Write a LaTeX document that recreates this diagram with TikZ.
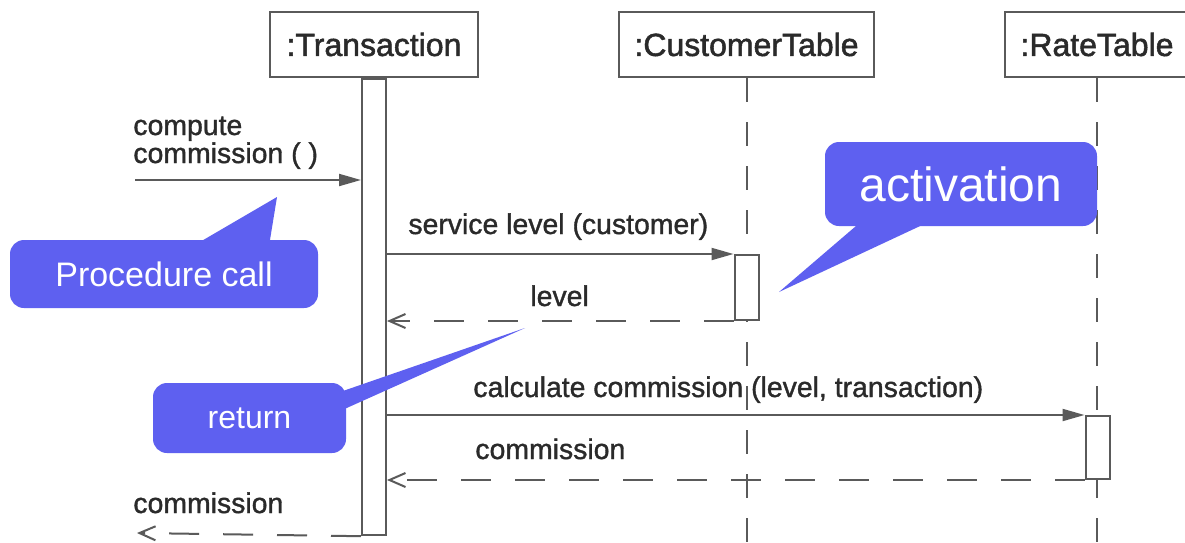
\documentclass[tikz,border=0pt]{standalone}
\usepackage{fontspec}
\setmainfont{Liberation Sans}
\newfontfamily\umlfont{Liberation Sans}[RawFeature={embolden=1.2}]
\newfontfamily\objfont{Liberation Sans}[RawFeature={embolden=1.6}]
\usetikzlibrary{arrows.meta, calc}
\definecolor{LineGray}{HTML}{5A5A5A}
\definecolor{TextGray}{HTML}{2A2A2A}
\definecolor{BalloonBlue}{HTML}{5E60F0}
\tikzset{
  objbox/.style={draw=LineGray, line width=1.2pt, fill=white, text=TextGray,
                 font=\objfont\fontsize{16}{19}\selectfont, minimum height=32.5pt,
                 inner sep=0pt},
  actbar/.style={draw=LineGray, line width=1pt, fill=white, minimum width=12pt,
                 inner sep=0pt, anchor=north},
  lifeline/.style={draw=LineGray, line width=1pt, dash pattern=on 12pt off 10pt},
  callmsg/.style={draw=LineGray, line width=1pt,
                  -{Triangle[length=11pt,width=6pt]}},
  retmsg/.style={draw=LineGray, line width=1pt, dash pattern=on 15pt off 12pt,
                 -{Straight Barb[length=8pt,width=7pt]}},
  msglbl/.style={font=\umlfont\fontsize{14.2}{14}\selectfont, text=TextGray,
                 inner sep=0pt, anchor=base west, align=left},
  balloon/.style={fill=BalloonBlue, rounded corners=7pt, text=white,
                  inner sep=0pt},
}

\begin{document}
\begin{tikzpicture}[x=0.5pt,y=-0.5pt]
  \useasboundingbox[fill=white] (0,0) rectangle (1185,542);

  % objects and lifelines
  \node[objbox, minimum width=104pt] (trans) at (374,44.5) {:Transaction};
  \node[objbox, minimum width=127.5pt] (cust) at (746.5,44.5) {:CustomerTable};
  \node[objbox, minimum width=92pt] (rate) at (1097,44.5) {:RateTable};
  \coordinate (custend) at (746.5,542);
  \coordinate (rateend) at (1097,542);
  \draw[lifeline] (cust.south) -- (custend);
  \draw[lifeline] (rate.south) -- (rateend);

  % activations
  \node[actbar, minimum height=228pt] (transbar) at (trans.south) {};
  \node[actbar, minimum height=32.5pt] (custbar) at (746.5,254) {};
  \node[actbar, minimum height=31.5pt] (ratebar) at (1097.5,415) {};

  % messages
  \coordinate (callin) at (135,180);
  \coordinate (retout) at (137,533);
  \draw[callmsg] (callin) -- (callin -| transbar.west);
  \node[msglbl] (lblcompute) at (133,163) {compute\\commission ( )};
  \draw[callmsg] (custbar.north west -| transbar.east) -- (custbar.north west);
  \node[msglbl] (lblservice) at (408,234) {service level (customer)};
  \draw[retmsg] (custbar.south west) -- (custbar.south west -| transbar.east);
  \node[msglbl] (lbllevel) at (530,306) {level};
  \draw[callmsg] (ratebar.north west -| transbar.east) -- (ratebar.north west);
  \node[msglbl] (lblcalc) at (473,397) {calculate commission (level, transaction)};
  \draw[retmsg] (ratebar.south west) -- (ratebar.south west -| transbar.east);
  \node[msglbl] (lblcomm) at (475,459) {commission};
  \draw[retmsg] (transbar.south west) -- (retout);
  \node[msglbl] (lblresult) at (133,513) {commission};

  % callouts
  \coordinate (proctip) at (277,197);
  \coordinate (acttip) at (779,292);
  \coordinate (rettip) at (525,328);
  \fill[BalloonBlue] (193,246) -- (proctip) -- (269,246) -- cycle;
  \fill[BalloonBlue] (863,220) -- (acttip) -- (933,220) -- cycle;
  \fill[BalloonBlue] (340,392) -- (rettip) -- (340,411) -- cycle;
  \node[balloon, minimum width=154pt, minimum height=34pt,
        font=\fontsize{17}{20}\selectfont] (proccall) at (164,274) {Procedure call};
  \node[balloon, minimum width=136pt, minimum height=42pt,
        font=\fontsize{24}{28}\selectfont] (activation) at (961,184) {activation};
  \node[balloon, minimum width=96.5pt, minimum height=35pt,
        font=\fontsize{16}{19}\selectfont] (return) at (249.5,418) {return};
\end{tikzpicture}
\end{document}
